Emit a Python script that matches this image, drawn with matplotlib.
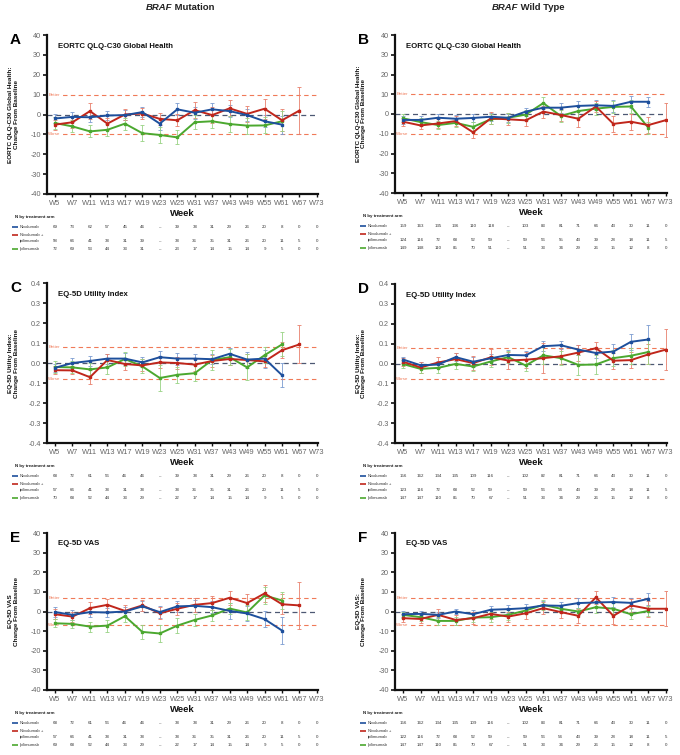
import matplotlib
matplotlib.use("Agg")
import matplotlib.pyplot as plt
import numpy as np
from matplotlib.transforms import blended_transform_factory
from matplotlib.ticker import FuncFormatter

plt.rcParams['font.family'] = ['Liberation Sans', 'DejaVu Sans']
plt.rcParams['axes.unicode_minus'] = False

weeks = ["W5", "W7", "W11", "W13", "W17", "W19", "W23", "W25", "W31", "W37",
         "W43", "W49", "W55", "W61", "W67", "W73"]
arm_names = ["Nivolumab", "Nivolumab +\nipilimumab", "Ipilimumab"]

# ---------------- Panel A: BRAF mutation, EORTC QLQ-C30 Global Health
A_nivo = [-2.0, -1.2, -1.4, -0.5, -0.3, 1.2, -4.6, 2.6, 0.9, 2.6, 1.7, -0.3, -3.4, -5.1]
A_nivo_err = [2.5, 2.5, 2.5, 2.5, 2.5, 2.5, 3, 3, 3, 3, 3, 3, 3, 4.5]
A_combo = [-5.1, -3.9, 1.7, -4.6, 0.0, 0.5, -2.2, -2.9, 2.2, -0.3, 3.1, 0.3, 2.9, -2.9, 2.0]
A_combo_err = [2.5, 3, 4, 3, 3, 3, 3, 3, 4, 4, 4, 4, 5, 5.5, 12]
A_ipi = [-4.3, -6.0, -8.5, -7.7, -4.6, -9.4, -10.3, -11.5, -3.9, -3.4, -4.8, -5.6, -5.5, -3.4]
A_ipi_err = [3, 3, 3, 3, 3, 4, 4, 3.5, 3.5, 3.5, 4, 4, 4, 5]
A_n_nivo = ["69", "73", "62", "57", "45", "46", "–", "39", "38", "31", "29", "26", "20", "8", "0", "0"]
A_n_combo = ["58", "66", "41", "38", "31", "39", "–", "38", "36", "35", "31", "26", "20", "11", "5", "0"]
A_n_ipi = ["72", "69", "53", "44", "33", "31", "–", "23", "17", "14", "15", "14", "9", "5", "0", "0"]

# ---------------- Panel B: BRAF wild type, EORTC QLQ-C30 Global Health
B_nivo = [-3.0, -3.0, -1.9, -2.4, -2.0, -1.4, -1.9, 1.2, 3.2, 3.2, 4.1, 4.4, 4.1, 6.2, 6.2]
B_nivo_err = [2, 2, 2, 2, 2, 2, 2, 2, 2.5, 2.5, 2.5, 2.5, 3, 3, 2.5]
B_combo = [-3.9, -5.8, -4.8, -3.6, -9.3, -2.2, -2.7, -3.2, 1.2, -0.5, -2.4, 3.8, -5.0, -3.9, -5.6, -3.1]
B_combo_err = [2, 2, 2.5, 2.5, 3, 3, 3, 3, 3, 3, 4, 3, 4, 4, 4, 8.5]
B_ipi = [-2.2, -4.1, -5.6, -4.5, -6.5, -2.7, -1.9, -0.3, 5.5, -1.0, 1.5, 2.7, 3.6, 3.8, -7.0]
B_ipi_err = [2, 2, 2, 2, 2.5, 2.5, 2.5, 2.5, 3, 3, 3, 3, 3, 3.5, 3]
B_n_nivo = ["159", "163", "135", "136", "110", "118", "–", "103", "83", "81", "71", "66", "43", "30", "11", "0"]
B_n_combo = ["124", "116", "72", "68", "52", "59", "–", "59", "56", "55", "43", "39", "28", "18", "11", "5"]
B_n_ipi = ["149", "148", "110", "85", "70", "51", "–", "51", "33", "34", "29", "26", "15", "12", "8", "0"]

# ---------------- Panel C: BRAF mutation, EQ-5D Utility Index
C_nivo = [-0.024, 0.0, 0.010, 0.022, 0.022, 0.003, 0.029, 0.022, 0.022, 0.019, 0.046, 0.017, 0.022, -0.061]
C_nivo_err = [0.02, 0.025, 0.025, 0.025, 0.03, 0.025, 0.03, 0.03, 0.025, 0.025, 0.03, 0.04, 0.045, 0.06]
C_combo = [-0.036, -0.037, -0.071, 0.015, -0.005, -0.012, 0.003, 0.0, -0.008, 0.010, 0.020, 0.015, 0.008, 0.064, 0.093]
C_combo_err = [0.02, 0.02, 0.035, 0.03, 0.03, 0.03, 0.03, 0.03, 0.03, 0.03, 0.03, 0.03, 0.03, 0.04, 0.095]
C_ipi = [-0.020, -0.022, -0.032, -0.022, 0.020, -0.017, -0.075, -0.059, -0.051, 0.015, 0.029, -0.022, 0.039, 0.093]
C_ipi_err = [0.03, 0.03, 0.03, 0.035, 0.035, 0.035, 0.065, 0.04, 0.04, 0.05, 0.04, 0.065, 0.04, 0.06]
C_n_nivo = ["68", "72", "61", "56", "46", "46", "–", "39", "38", "31", "29", "26", "20", "8", "0", "0"]
C_n_combo = ["57", "66", "41", "38", "31", "38", "–", "38", "36", "35", "31", "26", "20", "11", "5", "0"]
C_n_ipi = ["70", "68", "52", "44", "33", "29", "–", "22", "17", "14", "15", "14", "9", "5", "0", "0"]

# ---------------- Panel D: BRAF wild type, EQ-5D Utility Index
D_nivo = [0.020, -0.009, -0.005, 0.032, 0.009, 0.026, 0.043, 0.041, 0.087, 0.092, 0.070, 0.053, 0.060, 0.109, 0.121]
D_nivo_err = [0.015, 0.015, 0.02, 0.02, 0.025, 0.02, 0.025, 0.02, 0.025, 0.02, 0.025, 0.025, 0.04, 0.04, 0.075]
D_combo = [0.009, -0.020, 0.005, 0.022, 0.002, 0.031, 0.015, 0.019, 0.027, 0.036, 0.055, 0.077, 0.014, 0.017, 0.046, 0.070]
D_combo_err = [0.02, 0.03, 0.03, 0.03, 0.035, 0.04, 0.045, 0.04, 0.075, 0.04, 0.04, 0.03, 0.04, 0.04, 0.05, 0.105]
D_ipi = [-0.003, -0.027, -0.022, -0.002, -0.015, 0.010, 0.032, -0.010, 0.041, 0.027, -0.007, -0.005, 0.027, 0.039, 0.058]
D_ipi_err = [0.02, 0.02, 0.025, 0.025, 0.025, 0.03, 0.03, 0.03, 0.045, 0.035, 0.05, 0.05, 0.04, 0.04, 0.06]
D_n_nivo = ["156", "162", "134", "135", "109", "116", "–", "102", "82", "81", "71", "66", "43", "30", "11", "0"]
D_n_combo = ["123", "116", "72", "68", "52", "59", "–", "59", "56", "54", "43", "39", "28", "18", "11", "5"]
D_n_ipi = ["147", "147", "110", "85", "70", "67", "–", "51", "33", "34", "29", "26", "15", "12", "8", "0"]

# ---------------- Panel E: BRAF mutation, EQ-5D VAS
E_nivo = [-0.3, -1.7, -0.3, -0.5, 0.0, 2.6, -0.3, 2.6, 2.9, 2.2, 0.3, -1.0, -3.9, -9.7]
E_nivo_err = [2.5, 2.5, 2.5, 2.5, 2.5, 2.5, 3, 3, 3, 3, 4, 4, 4, 7]
E_combo = [-1.4, -2.6, 1.7, 3.4, 0.3, 3.1, -0.9, 1.4, 3.4, 4.3, 7.0, 4.3, 9.2, 3.7, 3.1]
E_combo_err = [2.5, 2.5, 3, 3, 3, 3, 3, 3, 3.5, 3.5, 3.5, 4.5, 4.5, 5, 12]
E_ipi = [-6.0, -6.3, -7.7, -7.2, -2.4, -10.4, -11.2, -7.2, -4.3, -2.0, 1.5, -0.5, 8.2, 5.6]
E_ipi_err = [2, 2, 2.5, 3, 3, 3.5, 4.5, 4, 3, 3, 3, 4, 4.5, 4.5]
E_n_nivo = ["68", "72", "61", "56", "46", "46", "–", "38", "38", "31", "29", "26", "20", "8", "0", "0"]
E_n_combo = ["57", "66", "41", "38", "31", "38", "–", "38", "36", "35", "31", "26", "20", "11", "5", "0"]
E_n_ipi = ["69", "68", "52", "44", "33", "29", "–", "22", "17", "14", "15", "14", "9", "5", "0", "0"]

# ---------------- Panel F: BRAF wild type, EQ-5D VAS
F_nivo = [-1.4, -1.2, -1.7, 0.0, -1.4, 0.9, 1.2, 1.7, 3.1, 2.9, 4.3, 4.6, 4.8, 4.4, 6.5]
F_nivo_err = [1.5, 1.5, 1.5, 1.5, 2, 2, 2, 2, 2, 2, 2.5, 2.5, 2.5, 2.5, 3]
F_combo = [-3.4, -3.8, -1.7, -4.3, -3.4, -1.2, -2.6, -0.9, 1.7, -0.3, -2.2, 7.2, -2.2, 3.1, 1.4, 1.4]
F_combo_err = [2, 2, 3, 2.5, 3, 2.5, 2.5, 3, 3, 3, 3.5, 3.5, 4, 3.5, 4, 9]
F_ipi = [-1.7, -2.9, -4.8, -4.8, -3.1, -2.9, -1.7, 0.5, 3.4, 1.4, 0.0, 2.2, 1.4, -1.4, 0.3]
F_ipi_err = [1.5, 2, 2, 2, 2.5, 2.5, 2.5, 2, 2.5, 2, 2, 3, 3, 2.5, 2.5]
F_n_nivo = ["156", "162", "134", "135", "109", "116", "–", "102", "83", "81", "71", "66", "43", "30", "11", "0"]
F_n_combo = ["122", "116", "72", "68", "52", "59", "–", "59", "56", "54", "43", "39", "28", "18", "11", "5"]
F_n_ipi = ["147", "147", "110", "85", "70", "67", "–", "51", "33", "34", "29", "26", "15", "12", "8", "0"]

col_titles = [("BRAF", " Mutation"), ("BRAF", " Wild Type")]
titles_row = ["EORTC QLQ-C30 Global Health", "EQ-5D Utility Index", "EQ-5D VAS"]
ylabels = [["EORTC QLQ-C30 Global Health:\nChange From Baseline"] * 2,
           ["EQ-5D Utility Index:\nChange From Baseline"] * 2,
           ["EQ-5D VAS\nChange From Baseline", "EQ-5D VAS:\nChange From Baseline"]]
thresholds = [10, 0.08, 7]

line_cols = ["#1d4f9c", "#c0261b", "#4ba82f"]
err_cols = ["#7b9bd0", "#e8806c", "#98d283"]
ref_col = "#f07a58"
zero_col = "#4d5873"

W, H = 680, 755
fig = plt.figure(figsize=(W / 100, H / 100), dpi=100)

rects_px = [
    [(47, 35, 271, 194), (395, 35, 272, 193)],
    [(47, 283, 271, 443), (395, 284, 272, 443)],
    [(47, 533, 271, 690), (395, 533, 272, 690)],
]
letters = [["A", "B"], ["C", "D"], ["E", "F"]]

panels = [
    [(A_nivo, A_nivo_err, A_combo, A_combo_err, A_ipi, A_ipi_err, A_n_nivo, A_n_combo, A_n_ipi),
     (B_nivo, B_nivo_err, B_combo, B_combo_err, B_ipi, B_ipi_err, B_n_nivo, B_n_combo, B_n_ipi)],
    [(C_nivo, C_nivo_err, C_combo, C_combo_err, C_ipi, C_ipi_err, C_n_nivo, C_n_combo, C_n_ipi),
     (D_nivo, D_nivo_err, D_combo, D_combo_err, D_ipi, D_ipi_err, D_n_nivo, D_n_combo, D_n_ipi)],
    [(E_nivo, E_nivo_err, E_combo, E_combo_err, E_ipi, E_ipi_err, E_n_nivo, E_n_combo, E_n_ipi),
     (F_nivo, F_nivo_err, F_combo, F_combo_err, F_ipi, F_ipi_err, F_n_nivo, F_n_combo, F_n_ipi)],
]

renderer = fig.canvas.get_renderer()
for c, (gene, rest) in enumerate(col_titles):
    cx = [180, 528][c]
    t1 = fig.text(0, 1 - 7 / H, gene, ha="left", va="center", fontsize=6.8,
                  fontweight="bold", fontstyle="italic", color="#222222")
    t2 = fig.text(0, 1 - 7 / H, rest, ha="left", va="center", fontsize=6.8,
                  fontweight="bold", color="#222222")
    w1 = t1.get_window_extent(renderer).width
    w2 = t2.get_window_extent(renderer).width
    x0 = cx - (w1 + w2) / 2
    t1.set_x(x0 / W)
    t2.set_x((x0 + w1) / W)

for r in range(3):
    for c in range(2):
        l, t, w, b = rects_px[r][c]
        ax = fig.add_axes([l / W, 1 - b / H, w / W, (b - t) / H])
        hpx = b - t
        data = panels[r][c]
        series = [(data[0], data[1]), (data[2], data[3]), (data[4], data[5])]
        ns = [data[6], data[7], data[8]]
        thr = thresholds[r]
        if r == 1:
            ylim = (-0.4, 0.4)
            yt = np.round(np.arange(-0.4, 0.41, 0.1), 1)
            fmt = FuncFormatter(lambda v, p: f"{v:.1f}".replace("-0.0", "0.0"))
        else:
            ylim = (-40, 40)
            yt = np.arange(-40, 41, 10)
            fmt = FuncFormatter(lambda v, p: f"{v:.0f}")
        ax.set_xlim(-0.46, 15.06)
        ax.set_ylim(*ylim)
        ax.set_yticks(yt)
        ax.yaxis.set_major_formatter(fmt)
        ax.set_xticks(np.arange(len(weeks)))
        ax.set_xticklabels(weeks)
        for s in ["top", "right"]:
            ax.spines[s].set_visible(False)
        for s in ["left", "bottom"]:
            ax.spines[s].set_linewidth(1.6)
            ax.spines[s].set_color("#111111")
        ax.tick_params(axis="y", labelsize=5.2, labelcolor="#666666", length=3,
                       width=1.2, pad=1.5, color="#111111")
        ax.tick_params(axis="x", labelsize=5.4, labelcolor="#666666", length=2.5,
                       width=1.0, pad=1.5, color="#111111")

        ax.axhline(thr, color=ref_col, ls=(0, (4, 3)), lw=0.8, zorder=1)
        ax.axhline(-thr, color=ref_col, ls=(0, (4, 3)), lw=0.8, zorder=1)
        ax.axhline(0, color=zero_col, ls=(0, (4, 3)), lw=0.9, zorder=1)
        for val, lab in [(thr, "Better"), (-thr, "Worse")]:
            ax.text(-0.38, val, lab, fontsize=3.2, color=ref_col, va="center", ha="left",
                    bbox=dict(facecolor="white", edgecolor="none", pad=0.3), zorder=2)

        for k in range(3):
            y, e = series[k]
            x = np.arange(len(y))
            ax.errorbar(x, y, yerr=e, fmt="none", ecolor=err_cols[k], elinewidth=0.6,
                        capsize=1.4, capthick=0.6, zorder=3)
            ax.plot(x, y, color=line_cols[k], lw=1.4, marker="s", ms=1.8,
                    zorder=4 + (2 - k) * 0.1)

        ax.text(0.04, 0.93, titles_row[r], transform=ax.transAxes,
                fontsize=5.6, fontweight="bold", color="#111111", va="center", ha="left")
        ax.set_ylabel(ylabels[r][c], fontsize=4.6, fontweight="bold", color="#111111",
                      linespacing=1.1)
        ax.yaxis.set_label_coords(-0.105, 0.5)
        ax.set_xlabel("Week", fontsize=6.8, fontweight="bold", color="#111111")
        ax.xaxis.set_label_coords(0.5, -0.095)

        fig.text((l - 37) / W, 1 - (t + 5) / H, letters[r][c], fontsize=11,
                 fontweight="bold", ha="left", va="center")

        tr = blended_transform_factory(ax.transData, ax.transAxes)
        fy = lambda px: -px / hpx
        ax.text(-0.118, fy(23), "N by treatment arm", transform=ax.transAxes,
                fontsize=3.2, fontweight="bold", ha="left", va="center", color="#222222")
        row_y = [fy(33), fy(47), fy(55)]
        lab_y = [fy(33), fy(41), fy(55)]
        for k in range(3):
            ax.plot([-0.13, -0.106], [lab_y[k], lab_y[k]], transform=ax.transAxes,
                    color=line_cols[k], lw=1.2, clip_on=False, solid_capstyle="butt")
            if k == 1:
                ax.text(-0.1, fy(41), "Nivolumab +", transform=ax.transAxes, fontsize=3.1,
                        ha="left", va="center", color="#333333")
                ax.text(-0.1, fy(47), "ipilimumab", transform=ax.transAxes, fontsize=3.1,
                        ha="left", va="center", color="#333333")
            else:
                ax.text(-0.1, lab_y[k], arm_names[k], transform=ax.transAxes, fontsize=3.1,
                        ha="left", va="center", color="#333333")
            for i, v in enumerate(ns[k]):
                ax.text(i, row_y[k], v, transform=tr, fontsize=3.2, ha="center",
                        va="center", color="#333333")

fig.savefig("out.png", dpi=100, facecolor="white")
